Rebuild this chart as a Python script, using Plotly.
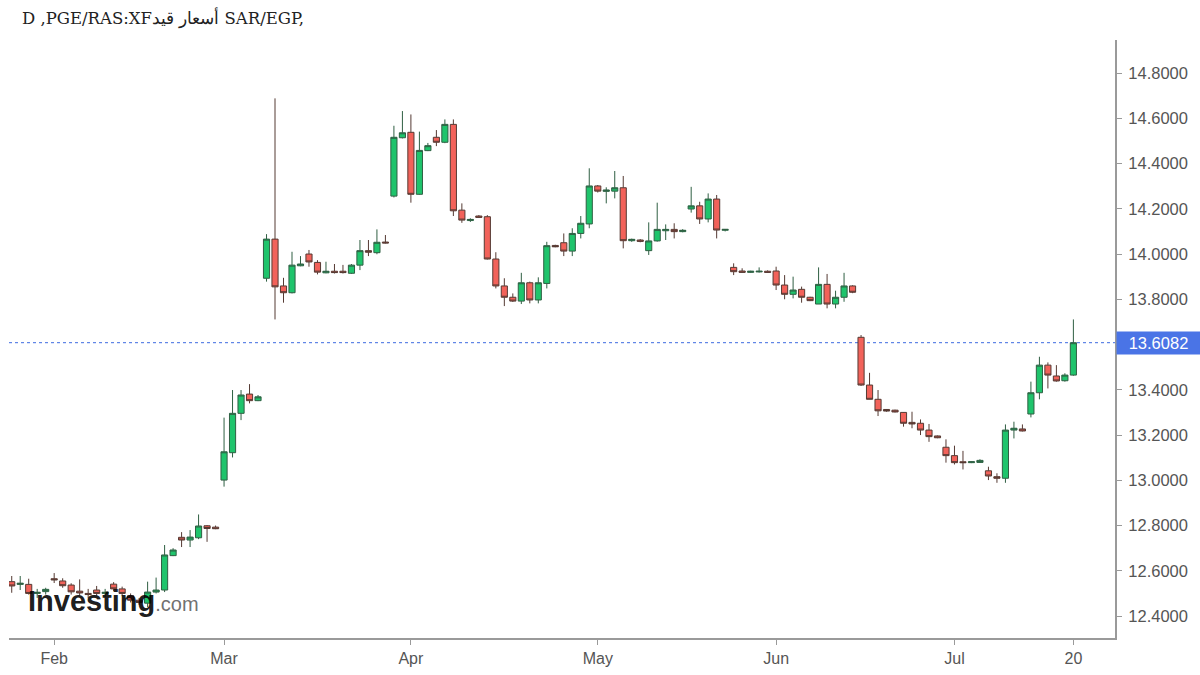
import plotly.graph_objects as go

# ---- data ----
bar_index = list(range(126))

open_ = [12.552, 12.540, 12.540, 12.500, 12.508, 12.565, 12.555, 12.537, 12.510, 12.500,
         12.515, 12.500, 12.541, 12.520, 12.490, 12.470, 12.457, 12.506, 12.515, 12.667,
         12.748, 12.736, 12.746, 12.799, 12.793, 13.001, 13.122, 13.296, 13.381, 13.352,
         13.893, 14.066, 13.859, 13.829, 13.948, 14.000, 13.963, 13.917, 13.924, 13.924,
         13.915, 13.951, 14.015, 14.006, 14.053, 14.256, 14.514, 14.538, 14.264, 14.457,
         14.516, 14.494, 14.573, 14.194, 14.148, 14.168, 14.165, 13.978, 13.859, 13.809,
         13.792, 13.873, 13.797, 13.870, 14.038, 14.050, 14.013, 14.091, 14.133, 14.301,
         14.277, 14.278, 14.293, 14.059, 14.062, 14.015, 14.058, 14.103, 14.109, 14.099,
         14.199, 14.213, 14.155, 14.243, 14.105, 13.941, 13.925, 13.919, 13.921, 13.924,
         13.925, 13.863, 13.822, 13.844, 13.809, 13.779, 13.866, 13.779, 13.809, 13.859,
         13.632, 13.421, 13.358, 13.313, 13.310, 13.300, 13.256, 13.252, 13.222, 13.196,
         13.146, 13.109, 13.082, 13.078, 13.079, 13.042, 13.016, 13.009, 13.222, 13.227,
         13.293, 13.387, 13.509, 13.461, 13.440, 13.465]

high = [12.577, 12.577, 12.565, 12.520, 12.525, 12.590, 12.567, 12.545, 12.562, 12.520,
        12.533, 12.520, 12.550, 12.530, 12.500, 12.480, 12.552, 12.570, 12.714, 12.700,
        12.771, 12.780, 12.849, 12.802, 12.800, 13.277, 13.399, 13.399, 13.425, 13.377,
        14.088, 14.688, 13.895, 14.010, 13.991, 14.018, 13.973, 13.966, 13.956, 13.952,
        13.956, 14.062, 14.062, 14.109, 14.084, 14.567, 14.632, 14.617, 14.541, 14.491,
        14.548, 14.595, 14.595, 14.224, 14.158, 14.172, 14.172, 14.008, 13.893, 13.826,
        13.917, 13.878, 13.897, 14.054, 14.041, 14.091, 14.114, 14.168, 14.379, 14.305,
        14.295, 14.367, 14.345, 14.068, 14.066, 14.140, 14.227, 14.131, 14.136, 14.110,
        14.297, 14.231, 14.268, 14.261, 14.110, 13.959, 13.937, 13.926, 13.941, 13.928,
        13.944, 13.907, 13.900, 13.856, 13.811, 13.941, 13.912, 13.838, 13.917, 13.862,
        13.642, 13.475, 13.399, 13.315, 13.312, 13.301, 13.303, 13.269, 13.249, 13.198,
        13.181, 13.153, 13.130, 13.084, 13.093, 13.060, 13.031, 13.247, 13.259, 13.247,
        13.436, 13.546, 13.521, 13.509, 13.473, 13.711]

low = [12.503, 12.515, 12.495, 12.480, 12.495, 12.546, 12.525, 12.495, 12.490, 12.480,
       12.490, 12.485, 12.510, 12.490, 12.460, 12.450, 12.440, 12.500, 12.506, 12.665,
       12.705, 12.705, 12.740, 12.728, 12.784, 12.972, 13.101, 13.266, 13.340, 13.350,
       13.878, 13.711, 13.785, 13.826, 13.946, 13.944, 13.910, 13.915, 13.914, 13.914,
       13.912, 13.929, 13.991, 13.999, 14.047, 14.250, 14.511, 14.227, 14.262, 14.455,
       14.477, 14.490, 14.168, 14.138, 14.142, 14.160, 13.976, 13.848, 13.770, 13.788,
       13.779, 13.782, 13.782, 13.848, 14.030, 13.991, 13.991, 14.069, 14.114, 14.272,
       14.224, 14.246, 14.025, 14.054, 14.052, 13.996, 14.055, 14.062, 14.069, 14.096,
       14.183, 14.133, 14.140, 14.069, 14.100, 13.907, 13.918, 13.917, 13.918, 13.917,
       13.841, 13.800, 13.804, 13.785, 13.792, 13.779, 13.760, 13.760, 13.789, 13.827,
       13.417, 13.358, 13.284, 13.303, 13.300, 13.237, 13.230, 13.200, 13.170, 13.186,
       13.078, 13.070, 13.048, 13.076, 13.077, 13.001, 12.989, 12.989, 13.185, 13.216,
       13.278, 13.358, 13.406, 13.436, 13.436, 13.462]

close = [12.533, 12.545, 12.500, 12.505, 12.518, 12.560, 12.534, 12.507, 12.502, 12.495,
         12.500, 12.505, 12.520, 12.500, 12.470, 12.460, 12.506, 12.515, 12.670, 12.692,
         12.736, 12.749, 12.798, 12.787, 12.786, 13.126, 13.296, 13.377, 13.352, 13.369,
         14.066, 13.855, 13.829, 13.951, 13.956, 13.965, 13.920, 13.924, 13.918, 13.918,
         13.951, 14.015, 14.008, 14.052, 14.049, 14.516, 14.536, 14.264, 14.458, 14.479,
         14.494, 14.573, 14.191, 14.150, 14.153, 14.162, 13.978, 13.859, 13.809, 13.792,
         13.873, 13.797, 13.873, 14.037, 14.032, 14.013, 14.091, 14.136, 14.301, 14.278,
         14.283, 14.293, 14.059, 14.065, 14.056, 14.058, 14.109, 14.109, 14.099, 14.105,
         14.213, 14.155, 14.243, 14.106, 14.109, 13.922, 13.919, 13.924, 13.924, 13.919,
         13.863, 13.822, 13.841, 13.809, 13.794, 13.866, 13.779, 13.809, 13.859, 13.831,
         13.421, 13.358, 13.307, 13.306, 13.302, 13.252, 13.249, 13.222, 13.193, 13.188,
         13.109, 13.078, 13.078, 13.082, 13.088, 13.019, 13.009, 13.222, 13.230, 13.218,
         13.387, 13.509, 13.465, 13.439, 13.465, 13.6082]

tick_index = [5, 25, 47, 69, 90, 111, 125]
tick_labels = ["Feb", "Mar", "Apr", "May", "Jun", "Jul", "20"]

# 13.6000 is hidden behind the last-price label in the reference
price_ticks = [12.4, 12.6, 12.8, 13.0, 13.2, 13.4, 13.8, 14.0, 14.2, 14.4, 14.6, 14.8]
last_price = 13.6082

title_text = "D ,PGE/RAS:XFأسعار قيد SAR/EGP,"

# ---- figure ----
fig = go.Figure()
fig.add_trace(go.Candlestick(
    x=bar_index, open=open_, high=high, low=low, close=close,
    increasing=dict(fillcolor="#1fc46c", line=dict(color="#2f5f43", width=1)),
    decreasing=dict(fillcolor="#f2625a", line=dict(color="#553a33", width=1)),
    whiskerwidth=0, showlegend=False, hoverinfo="skip",
))

axis_gray = "#9a9a9a"
fig.update_layout(
    width=1200, height=675, autosize=False,
    margin=dict(l=9, r=85, t=40, b=37),
    paper_bgcolor="white", plot_bgcolor="white",
    boxgap=0.15, boxgroupgap=0.15,
    showlegend=False,
    title=dict(text=title_text, x=22 / 1200, xref="container", xanchor="left",
               y=1 - 18 / 675, yref="container", yanchor="middle",
               font=dict(family="DejaVu Serif", size=16.5, color="#222222")),
    font=dict(family="Liberation Sans, Arial, sans-serif"),
)
fig.update_xaxes(
    range=[-0.32, 129.9], rangeslider=dict(visible=False),
    tickmode="array", tickvals=tick_index, ticktext=tick_labels,
    tickfont=dict(size=16, color="#555555"),
    ticks="outside", ticklen=5, tickcolor=axis_gray,
    showline=True, linecolor=axis_gray, linewidth=2,
    showgrid=False, zeroline=False, fixedrange=True,
)
fig.update_yaxes(
    side="right", range=[12.303, 14.946],
    tickmode="array", tickvals=price_ticks, tickformat=".4f",
    tickfont=dict(size=16.5, color="#555555"),
    ticks="outside", ticklen=5, tickcolor=axis_gray, ticklabelstandoff=3,
    showline=True, linecolor=axis_gray, linewidth=2,
    showgrid=False, zeroline=False, fixedrange=True,
)

# last price dotted line
fig.add_shape(type="line", xref="paper", x0=0, x1=1, yref="y", y0=last_price, y1=last_price,
              line=dict(color="#3d6be0", width=1, dash="dot"), layer="below")
# last price label
fig.add_annotation(x=1, xref="paper", xanchor="left", xshift=1, y=last_price, yref="y",
                   yanchor="middle", text=f"{last_price:.4f}", showarrow=False,
                   bgcolor="#4a74e6", font=dict(color="white", size=16.5),
                   width=79, height=18, borderpad=2, align="center")
# watermark
fig.add_annotation(x=17 / 1106, xref="paper", xanchor="left", y=(638 - 601) / 598, yref="paper",
                   yanchor="middle", showarrow=False,
                   text="<b>Investing</b><span style='font-size:20px;color:#5e5e5e'>.com</span>",
                   font=dict(family="Liberation Sans, Arial, sans-serif", size=29,
                             color="rgba(0,0,0,0.9)"))

fig.write_html("out.html")
